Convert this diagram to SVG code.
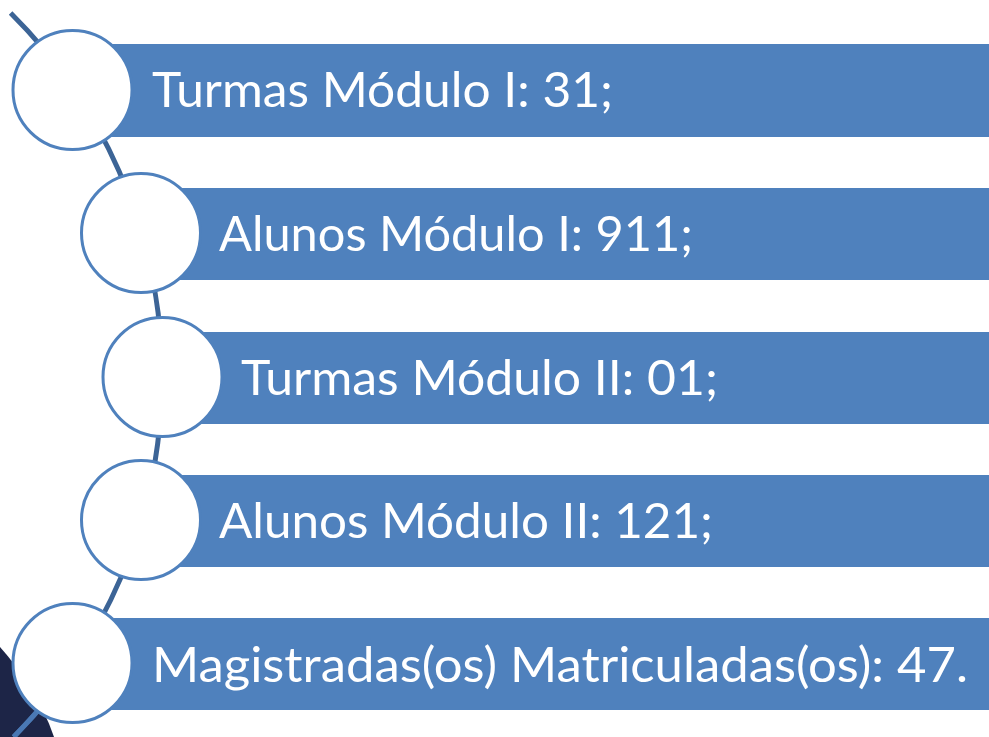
<svg xmlns="http://www.w3.org/2000/svg" width="989" height="737" viewBox="0 0 989 737">
<style>
.bar{fill:#4F81BD}
.ring{fill:#FFFFFF;stroke:#4F81BD;stroke-width:3}
.lbl{fill:#FFFFFF;font-family:Lato,"Open Sans","Liberation Sans",sans-serif;font-size:49px}
.conn{fill:none;stroke:#3C6496;stroke-width:5}
</style>
<defs>
<clipPath id="navyClip"><path d="M0,647 C22,672 42,702 54,737 L0,737 Z"/></clipPath>
</defs>
<rect width="989" height="737" fill="#FFFFFF"/>
<path id="navy" d="M0,647 C22,672 42,702 54,737 L0,737 Z" fill="#1D2547"/>
<g id="connectors">
<path class="conn" d="M10.6,13 A512,512 0 0 1 13.6,737"/>
<path class="conn" d="M10.6,13 A512,512 0 0 1 13.6,737" clip-path="url(#navyClip)" style="stroke:#4A78B4"/>
</g>
<g id="node1">
<rect class="bar" x="110" y="44" width="879" height="93"/>
<circle class="ring" cx="72.5" cy="90" r="59.5"/>
<text class="lbl" x="152" y="107" textLength="461" lengthAdjust="spacingAndGlyphs">Turmas Módulo I: 31;</text>
</g>
<g id="node2">
<rect class="bar" x="175" y="188" width="814" height="92"/>
<circle class="ring" cx="141" cy="233" r="59.5"/>
<text class="lbl" x="219" y="251" textLength="474" lengthAdjust="spacingAndGlyphs">Alunos Módulo I: 911;</text>
</g>
<g id="node3">
<rect class="bar" x="195" y="332" width="794" height="92"/>
<circle class="ring" cx="162.5" cy="377" r="59.5"/>
<text class="lbl" x="241" y="395" textLength="477" lengthAdjust="spacingAndGlyphs">Turmas Módulo II: 01;</text>
</g>
<g id="node4">
<rect class="bar" x="175" y="475" width="814" height="92"/>
<circle class="ring" cx="141" cy="520" r="59.5"/>
<text class="lbl" x="219" y="538" textLength="494" lengthAdjust="spacingAndGlyphs">Alunos Módulo II: 121;</text>
</g>
<g id="node5">
<rect class="bar" x="110" y="618" width="879" height="92"/>
<circle class="ring" cx="72.5" cy="663" r="59.5"/>
<text class="lbl" x="152" y="682" textLength="816" lengthAdjust="spacingAndGlyphs">Magistradas(os) Matriculadas(os): 47.</text>
</g>
</svg>
